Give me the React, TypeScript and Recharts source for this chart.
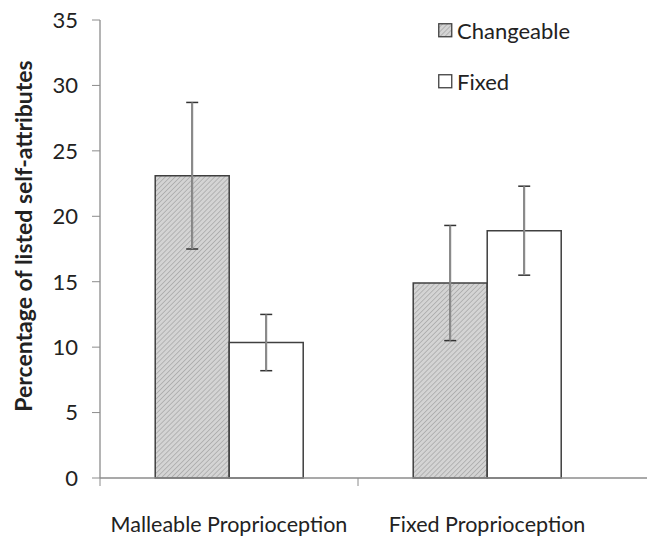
import { Bar, BarChart, ErrorBar, Legend, XAxis, YAxis } from "recharts"

const categories = ["Malleable Proprioception", "Fixed Proprioception"]
const changeable = [23.1, 14.9]
const changeableErr = [5.6, 4.4]
const fixed = [10.35, 18.9]
const fixedErr = [2.15, 3.4]
const yTicks = [0, 5, 10, 15, 20, 25, 30, 35]

const data = categories.map((name, i) => ({
  name,
  changeable: changeable[i],
  changeableErr: changeableErr[i],
  fixed: fixed[i],
  fixedErr: fixedErr[i],
}))

const font = "Lato, 'Open Sans', sans-serif"
const axisGray = "#8c8c8c"
const textColor = "#222222"

function CategoryTick(props: any) {
  const { x, y, payload } = props
  const half = payload.offset ?? 129
  return (
    <g>
      <line x1={x - half} y1={y} x2={x - half} y2={y + 8} stroke={axisGray} />
      <text x={x} y={y + 54} textAnchor="middle" fontFamily={font} fontSize={21.5} fill={textColor}>
        {payload.value}
      </text>
    </g>
  )
}

function YTitle(props: any) {
  const { viewBox } = props
  const cx = viewBox.x + 23
  const cy = viewBox.y + viewBox.height / 2 - 13
  return (
    <text
      x={cx}
      y={cy}
      transform={`rotate(-90 ${cx} ${cy})`}
      textAnchor="middle"
      dominantBaseline="central"
      fontFamily={font}
      fontWeight="bold"
      fontSize={23}
      fill={textColor}
    >
      Percentage of listed self-attributes
    </text>
  )
}

function LegendBox() {
  const items = [
    { label: "Changeable", fill: "url(#hatch)" },
    { label: "Fixed", fill: "#ffffff" },
  ]
  return (
    <div style={{ fontFamily: font, fontSize: 22, color: textColor }}>
      {items.map((it) => (
        <div key={it.label} style={{ display: "flex", alignItems: "center", height: 26, marginBottom: 25 }}>
          <svg width={15} height={15} style={{ marginRight: 4 }}>
            <rect x={0.75} y={0.75} width={13} height={13} fill={it.fill} stroke="#404040" strokeWidth={1.3} />
          </svg>
          <span>{it.label}</span>
        </div>
      ))}
    </div>
  )
}

export default function App() {
  return (
    <div style={{ position: "absolute", left: 0, top: 0, width: 647, height: 542, background: "#fff" }}>
      <BarChart
        width={647}
        height={542}
        data={data}
        margin={{ top: 20, right: 0, left: 0, bottom: 0 }}
        barCategoryGap="21.4%"
        barGap={0}
      >
        <defs>
          <pattern id="hatch" patternUnits="userSpaceOnUse" width={3.5} height={3.5} patternTransform="rotate(45)">
            <rect width={3.5} height={3.5} fill="#d4d4d4" />
            <line x1={0} y1={0} x2={0} y2={3.5} stroke="#a4a4a4" strokeWidth={1.4} />
          </pattern>
        </defs>
        <XAxis
          dataKey="name"
          height={64}
          padding={{ left: 0, right: 31 }}
          axisLine={{ stroke: axisGray, strokeWidth: 1.3 }}
          tickLine={false}
          tickSize={0}
          tickMargin={0}
          tick={<CategoryTick />}
          interval={0}
        />
        <YAxis
          width={100}
          domain={[0, 35]}
          ticks={yTicks}
          interval={0}
          axisLine={{ stroke: axisGray, strokeWidth: 1.3 }}
          tickLine={{ stroke: axisGray }}
          tickSize={8}
          tickMargin={14}
          tick={{ fontFamily: font, fontSize: 22, fill: textColor }}
          label={{ content: <YTitle /> }}
        />
        <Legend
          layout="vertical"
          align="center"
          verticalAlign="middle"
          wrapperStyle={{ left: 438, top: 17, width: 180 }}
          content={<LegendBox />}
        />
        <Bar dataKey="changeable" fill="url(#hatch)" stroke="#404040" strokeWidth={1.5} isAnimationActive={false}>
          <ErrorBar dataKey="changeableErr" width={6} stroke="#333333" strokeWidth={1.5} isAnimationActive={false} />
          <ErrorBar dataKey="changeableErr" width={0} stroke="#8a8a8a" strokeWidth={2} isAnimationActive={false} />
        </Bar>
        <Bar dataKey="fixed" fill="#ffffff" stroke="#404040" strokeWidth={1.5} isAnimationActive={false}>
          <ErrorBar dataKey="fixedErr" width={6} stroke="#333333" strokeWidth={1.5} isAnimationActive={false} />
          <ErrorBar dataKey="fixedErr" width={0} stroke="#8a8a8a" strokeWidth={2} isAnimationActive={false} />
        </Bar>
      </BarChart>
    </div>
  )
}
